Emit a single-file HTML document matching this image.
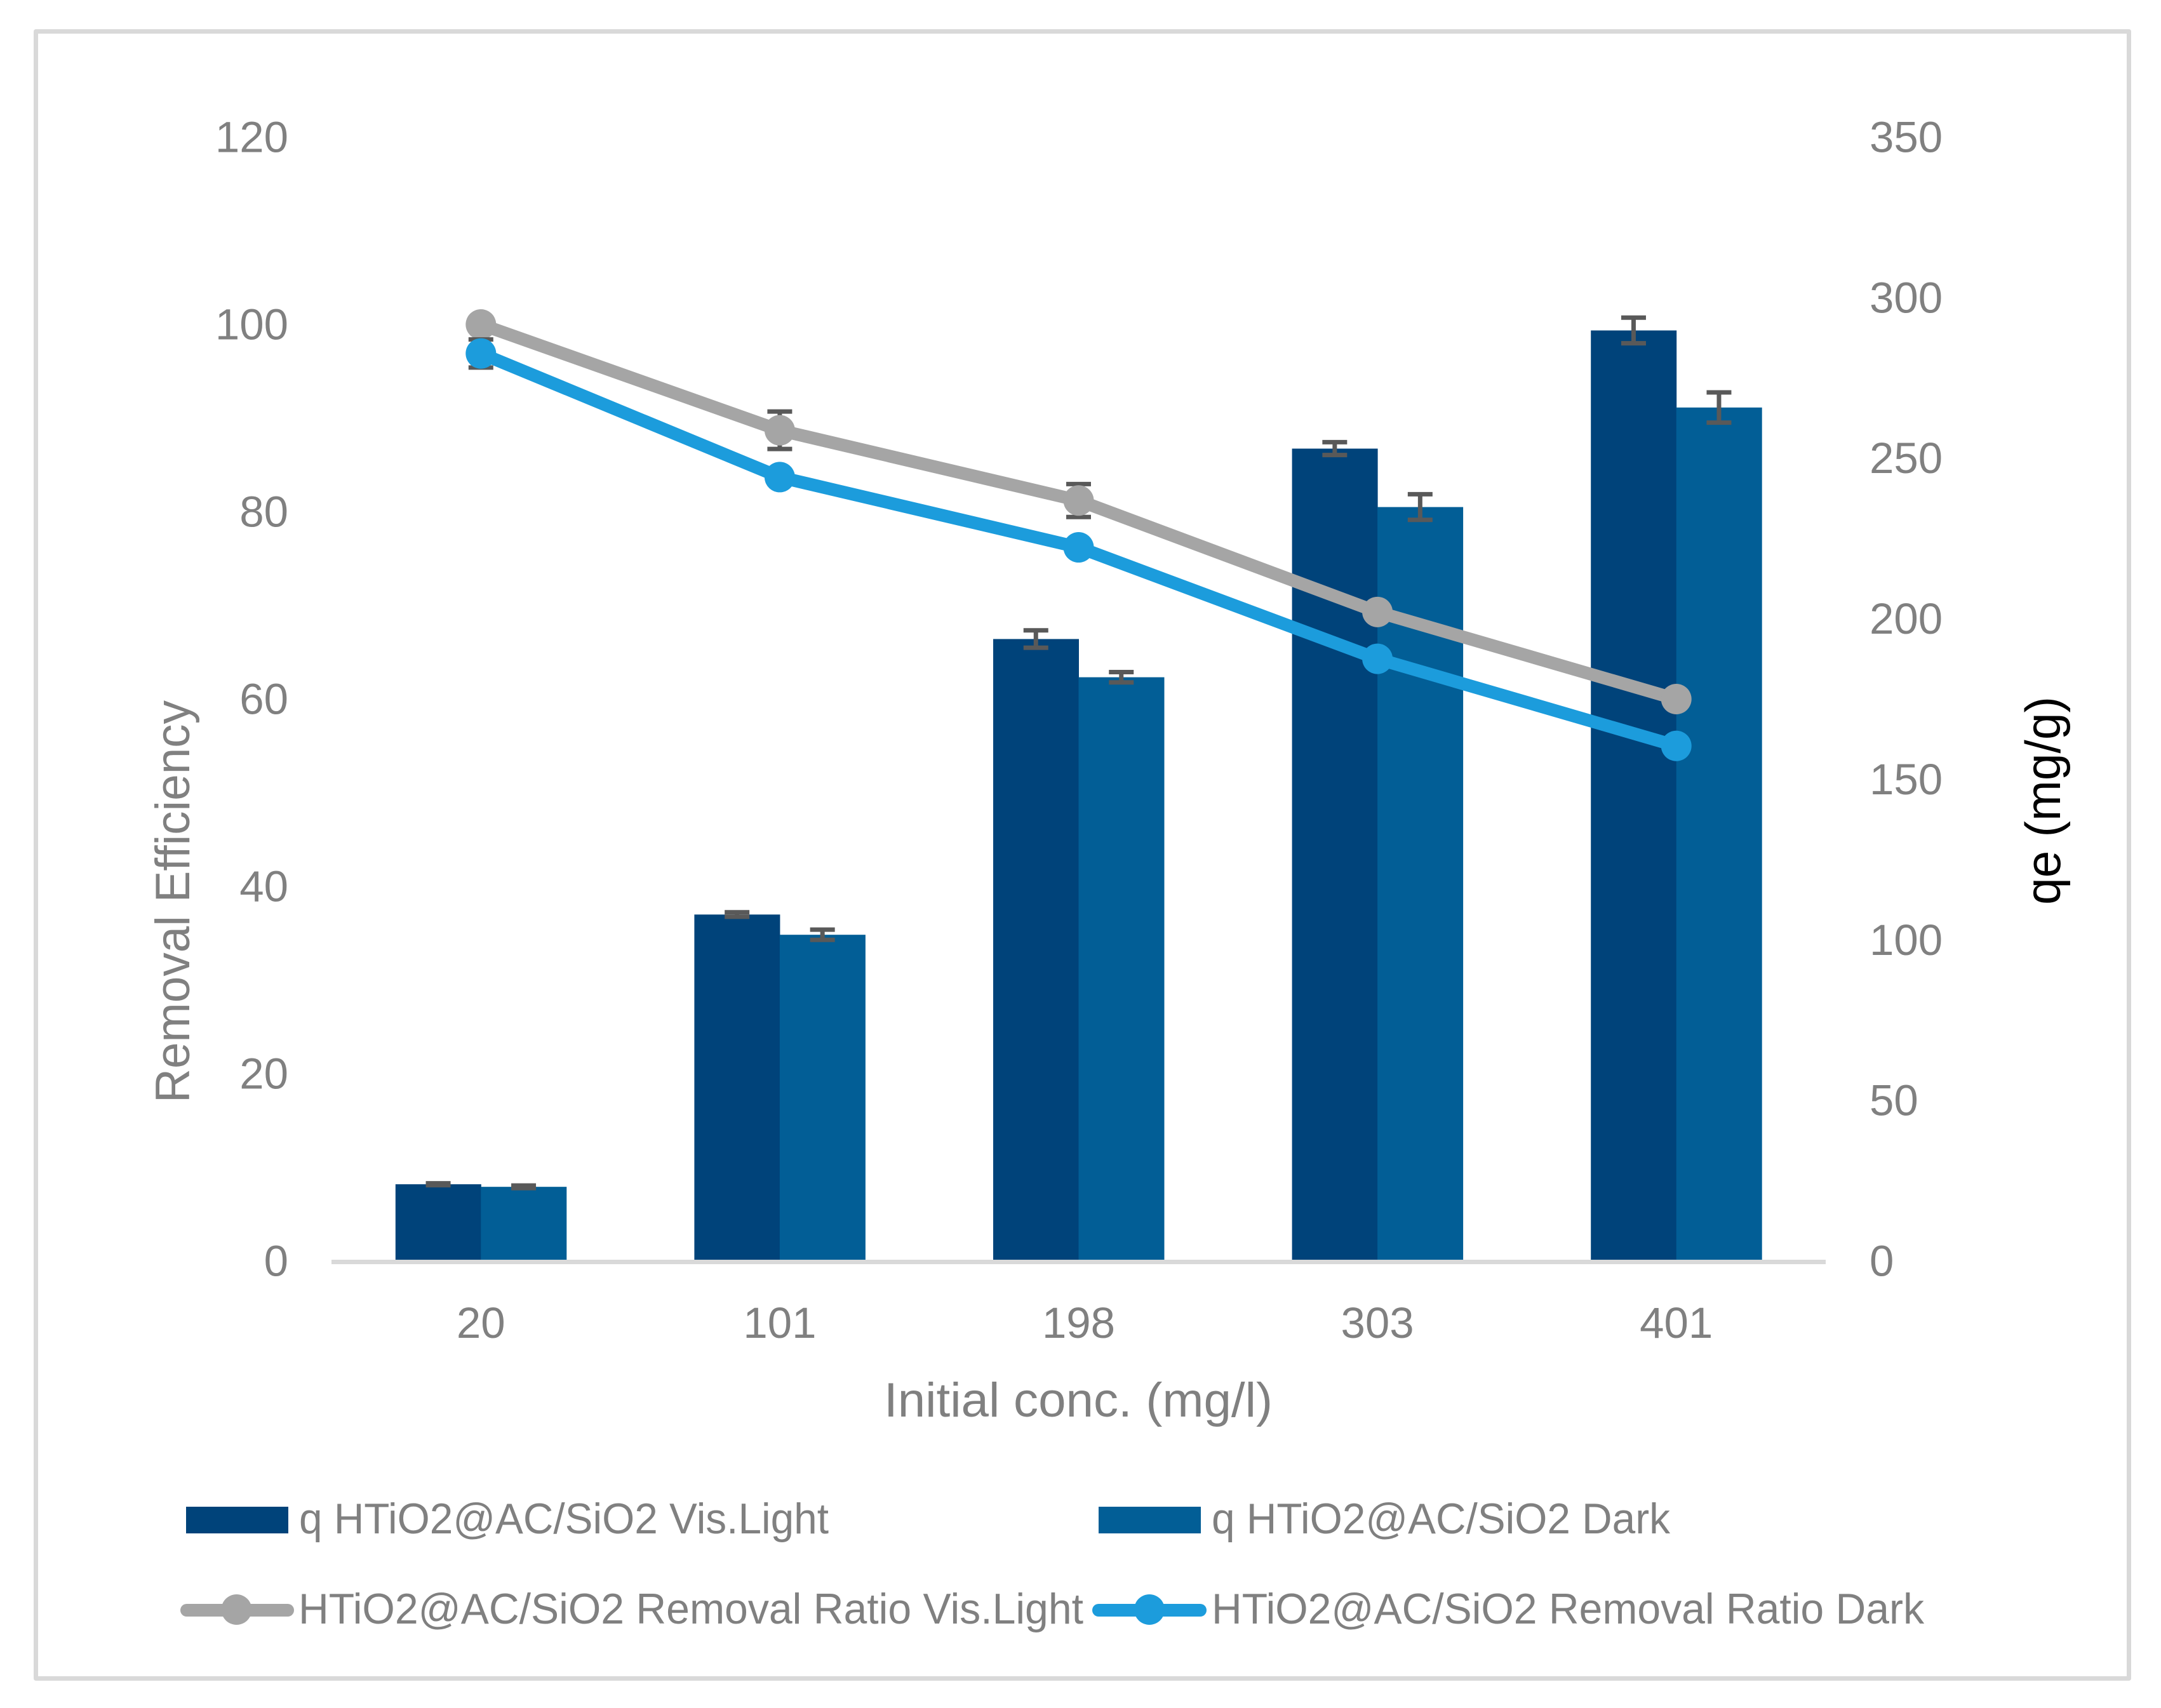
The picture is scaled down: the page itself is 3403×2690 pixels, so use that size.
<!DOCTYPE html>
<html lang="en">
<head>
<meta charset="utf-8">
<title>Removal efficiency and qe chart</title>
<style>
  html, body { margin: 0; padding: 0; background: #ffffff; }
  svg { display: block; }
  text { font-family: "Liberation Sans", sans-serif; fill: #808080; }
</style>
</head>
<body>
<svg id="chart" xmlns="http://www.w3.org/2000/svg" width="3403" height="2690" viewBox="0 0 3403 2690">
  <rect x="0" y="0" width="3403" height="2690" fill="#ffffff"/>
  <rect x="56.5" y="49.5" width="3296" height="2594" fill="#ffffff" stroke="#d9d9d9" stroke-width="7" stroke-linejoin="round"/>

  <g id="bars"></g>
  <g id="axis"></g>
  <g id="lines"></g>

  <text x="1392" y="2231" font-size="76" textLength="612" lengthAdjust="spacingAndGlyphs">Initial conc. (mg/l)</text>
  <text transform="translate(298,1737) rotate(-90)" font-size="76" textLength="634" lengthAdjust="spacingAndGlyphs">Removal Efficiency</text>
  <text transform="translate(3244,1425) rotate(-90)" font-size="78" style="fill:#000000" textLength="328" lengthAdjust="spacingAndGlyphs">qe (mg/g)</text>

  <g>
    <g>
      <rect x="293" y="2373" width="161" height="42" fill="#00437a"/>
      <text x="471" y="2415" font-size="68" textLength="834" lengthAdjust="spacingAndGlyphs">q HTiO2@AC/SiO2 Vis.Light</text>
    </g>
    <g>
      <rect x="1730" y="2373" width="161" height="42" fill="#025e96"/>
      <text x="1908" y="2415" font-size="68" textLength="722" lengthAdjust="spacingAndGlyphs">q HTiO2@AC/SiO2 Dark</text>
    </g>
    <g>
      <line x1="294" y1="2536" x2="453" y2="2536" stroke="#a5a5a5" stroke-width="20" stroke-linecap="round"/>
      <circle cx="372.5" cy="2535" r="24" fill="#a5a5a5"/>
      <text x="470" y="2557" font-size="68" textLength="1236" lengthAdjust="spacingAndGlyphs">HTiO2@AC/SiO2 Removal Ratio Vis.Light</text>
    </g>
    <g>
      <line x1="1730" y1="2536" x2="1890" y2="2536" stroke="#1c9cdc" stroke-width="20" stroke-linecap="round"/>
      <circle cx="1810" cy="2535" r="24" fill="#1c9cdc"/>
      <text x="1908" y="2557" font-size="68" textLength="1122" lengthAdjust="spacingAndGlyphs">HTiO2@AC/SiO2 Removal Ratio Dark</text>
    </g>
  </g>
</svg>

<script>
const categories = ["20", "101", "198", "303", "401"];
const leftTicks = [0, 20, 40, 60, 80, 100, 120];
const rightTicks = [0, 50, 100, 150, 200, 250, 300, 350];

const qVisLight = [23.9, 107.9, 193.7, 253, 289.8];
const qVisLightErr = [0.3, 0.7, 2.7, 2, 4];
const qDark = [23.1, 101.6, 181.8, 234.8, 265.8];
const qDarkErr = [0.4, 1.6, 1.6, 4, 4.7];
const ratioVisLight = [100, 88.7, 81.2, 69.3, 60];
const ratioVisLightErr = [0, 2, 1.76, 0, 0];
const ratioDark = [96.9, 83.7, 76.2, 64.3, 55];
const ratioDarkErr = [1.5, 0, 0, 0, 0];

const NS = "http://www.w3.org/2000/svg";
const PLOT_LEFT = 522, PLOT_RIGHT = 2875, PLOT_BOTTOM = 1986, PLOT_TOP = 216;
const LEFT_MAX = 120, RIGHT_MAX = 350;
const BAR_W = 134.5, CAP_W = 39, ERR_STROKE = 7;

function xCat(i) { return PLOT_LEFT + (PLOT_RIGHT - PLOT_LEFT) / categories.length * (i + 0.5); }
function yLeft(v) { return PLOT_BOTTOM - v * (PLOT_BOTTOM - PLOT_TOP) / LEFT_MAX; }
function yRight(v) { return PLOT_BOTTOM - v * (PLOT_BOTTOM - PLOT_TOP) / RIGHT_MAX; }

function make(tag, attrs, parent) {
  const el = document.createElementNS(NS, tag);
  for (const k in attrs) el.setAttribute(k, attrs[k]);
  parent.appendChild(el);
  return el;
}

function errorBar(parent, x, yCenter, yDelta) {
  const g = make("g", {}, parent);
  
  
  const top = yCenter - yDelta, bottom = yCenter + yDelta;
  const stem = make("line", { x1: x, x2: x, y1: top, y2: bottom, stroke: "#595959", "stroke-width": ERR_STROKE }, g);
  
  
  const capTop = make("line", { x1: x - CAP_W / 2, x2: x + CAP_W / 2, y1: top, y2: top, stroke: "#595959", "stroke-width": ERR_STROKE }, g);
  
  
  const capBottom = make("line", { x1: x - CAP_W / 2, x2: x + CAP_W / 2, y1: bottom, y2: bottom, stroke: "#595959", "stroke-width": ERR_STROKE }, g);
  
  
}

const barsLayer = document.getElementById("bars");
const axisLayer = document.getElementById("axis");
const linesLayer = document.getElementById("lines");

categories.forEach(function (cat, i) {
  const c = xCat(i);
  const b1 = make("rect", { x: c - BAR_W, y: yRight(qVisLight[i]), width: BAR_W + 0.5, height: PLOT_BOTTOM - yRight(qVisLight[i]), fill: "#00437a" }, barsLayer);
  
  
  const b2 = make("rect", { x: c, y: yRight(qDark[i]), width: BAR_W + 0.5, height: PLOT_BOTTOM - yRight(qDark[i]), fill: "#025e96" }, barsLayer);
  
  
});
categories.forEach(function (cat, i) {
  const c = xCat(i);
  errorBar(barsLayer, c - BAR_W / 2, yRight(qVisLight[i]), yRight(0) - yRight(qVisLightErr[i]));
  errorBar(barsLayer, c + BAR_W / 2, yRight(qDark[i]), yRight(0) - yRight(qDarkErr[i]));
});

const xAxisLine = make("rect", { x: PLOT_LEFT, y: 1984, width: PLOT_RIGHT - PLOT_LEFT, height: 7, fill: "#d9d9d9" }, axisLayer);



leftTicks.forEach(function (t) {
  const el = make("text", { x: 454, y: yLeft(t) + 23.5, "text-anchor": "end", "font-size": 69 }, axisLayer);
  el.textContent = String(t);
  
  
});
rightTicks.forEach(function (t) {
  const el = make("text", { x: 2944, y: yRight(t) + 23.5, "text-anchor": "start", "font-size": 69 }, axisLayer);
  el.textContent = String(t);
  
  
});
categories.forEach(function (cat, i) {
  const el = make("text", { x: xCat(i), y: 2107, "text-anchor": "middle", "font-size": 69 }, axisLayer);
  el.textContent = cat;
  
  
});

function drawLine(values, errs, color, name) {
  const g = make("g", {}, linesLayer);
  
  
  values.forEach(function (v, i) {
    if (errs[i] > 0) errorBar(g, xCat(i), yLeft(v), yLeft(0) - yLeft(errs[i]));
  });
  const pts = values.map(function (v, i) { return xCat(i) + "," + yLeft(v); }).join(" ");
  const line = make("polyline", { points: pts, fill: "none", stroke: color, "stroke-width": 20, "stroke-linejoin": "round", "stroke-linecap": "round" }, g);
  
  
  values.forEach(function (v, i) {
    const m = make("circle", { cx: xCat(i), cy: yLeft(v), r: 24, fill: color }, g);
    
    
  });
}

drawLine(ratioVisLight, ratioVisLightErr, "#a5a5a5", "ratio-vis-light");
drawLine(ratioDark, ratioDarkErr, "#1c9cdc", "ratio-dark");
</script>
</body>
</html>
